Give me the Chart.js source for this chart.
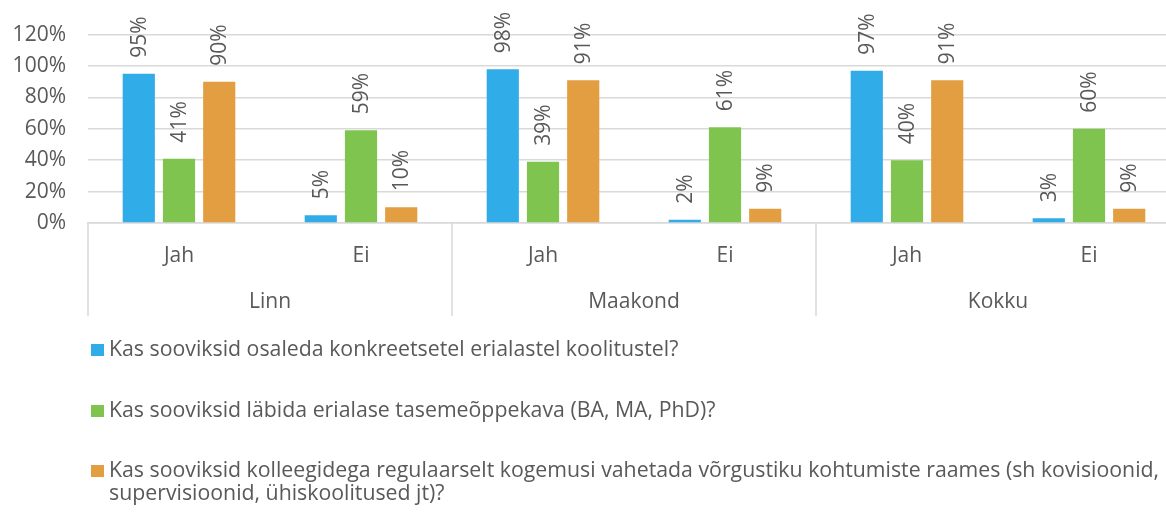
<!DOCTYPE html>
<html>
<head>
<meta charset="utf-8">
<script src="https://cdn.jsdelivr.net/npm/chart.js@4"></script>
<style>
  html, body { margin: 0; padding: 0; background: #fff; overflow: hidden; width: 1166px; height: 513px; }
  #wrap { position: relative; width: 1180px; height: 323px; }
  #legend { position: absolute; left: 0; top: 0; width: 1166px; height: 513px; pointer-events: none; font-family: "Open Sans", sans-serif; font-size: 21.3px; color: #595959; }
  .item { position: absolute; left: 91px; display: flex; align-items: flex-start; }
  .sw { width: 13px; height: 12px; margin-top: 8px; margin-right: 5px; flex: none; }
  .txt { line-height: 23px; white-space: nowrap; }
</style>
</head>
<body>
<div id="wrap"><canvas id="c" width="1180" height="323"></canvas></div>
<div id="legend"></div>
<script>
const categories = ["Jah", "Ei", "Jah", "Ei", "Jah", "Ei"];
const groups = ["Linn", "Maakond", "Kokku"];
const seriesNames = [
  "Kas sooviksid osaleda konkreetsetel erialastel koolitustel?",
  "Kas sooviksid läbida erialase tasemeõppekava (BA, MA, PhD)?",
  "Kas sooviksid kolleegidega regulaarselt kogemusi vahetada võrgustiku kohtumiste raames (sh kovisioonid,\nsupervisioonid, ühiskoolitused jt)?"
];
const koolitused = [95, 5, 98, 2, 97, 3];
const tasemeope = [41, 59, 39, 61, 40, 60];
const vorgustik = [90, 10, 91, 9, 91, 9];
const yTicks = [0, 20, 40, 60, 80, 100, 120];
const colors = ["#30ACE9", "#80C450", "#E29E40"];

const TXT = "#595959";
const FONT = '"Open Sans", sans-serif';
const FS = 21;

const dataLabels = {
  id: "dataLabels",
  afterDatasetsDraw(chart) {
    const ctx = chart.ctx;
    ctx.save();
    ctx.fillStyle = TXT;
    ctx.font = FS + "px " + FONT;
    ctx.textAlign = "left";
    ctx.textBaseline = "middle";
    chart.data.datasets.forEach((ds, di) => {
      const meta = chart.getDatasetMeta(di);
      meta.data.forEach((bar, i) => {
        ctx.save();
        ctx.translate(bar.x + 1, bar.y - 16);
        ctx.rotate(-Math.PI / 2);
        ctx.fillText(ds.data[i] + "%", 0, 0);
        ctx.restore();
      });
    });
    ctx.restore();
  }
};

const groupAxis = {
  id: "groupAxis",
  afterDraw(chart) {
    const ctx = chart.ctx;
    const x = chart.scales.x;
    const area = chart.chartArea;
    const half = (x.getPixelForValue(1) - x.getPixelForValue(0)) / 2;
    ctx.save();
    ctx.strokeStyle = "#D9D9D9";
    ctx.lineWidth = 1.5;
    for (let g = 0; g <= groups.length; g++) {
      const idx = g * 2;
      const px = Math.round(x.getPixelForValue(Math.min(idx, categories.length - 1)) + (idx >= categories.length ? half : -half));
      ctx.beginPath();
      ctx.moveTo(px, area.bottom);
      ctx.lineTo(px, area.bottom + 93);
      ctx.stroke();
    }
    ctx.fillStyle = TXT;
    ctx.font = FS + "px " + FONT;
    ctx.textAlign = "center";
    ctx.textBaseline = "middle";
    groups.forEach((g, gi) => {
      const cx = (x.getPixelForValue(gi * 2) + x.getPixelForValue(gi * 2 + 1)) / 2;
      ctx.fillText(g, cx, area.bottom + 79);
    });
    ctx.restore();
  }
};

new Chart(document.getElementById("c"), {
  type: "bar",
  data: {
    labels: categories,
    datasets: [
      { label: seriesNames[0], data: koolitused, backgroundColor: colors[0] },
      { label: seriesNames[1], data: tasemeope, backgroundColor: colors[1] },
      { label: seriesNames[2], data: vorgustik, backgroundColor: colors[2] }
    ]
  },
  options: {
    responsive: false,
    animation: false,
    events: [],
    layout: { padding: { top: 32, right: 0, bottom: 0, left: 0 } },
    datasets: { bar: { categoryPercentage: 0.663, barPercentage: 0.8 } },
    plugins: { legend: { display: false }, tooltip: { enabled: false } },
    scales: {
      x: {
        grid: { display: false },
        border: { color: "#D9D9D9", width: 1.5 },
        ticks: { color: TXT, font: { family: FONT, size: FS }, padding: 12, maxRotation: 0 },
        afterFit(s) { s.height = 100; }
      },
      y: {
        min: 0, max: 120,
        afterBuildTicks(s) { s.ticks = yTicks.map(v => ({ value: v })); },
        grid: { color: "#D9D9D9", drawTicks: false, lineWidth: 1.5 },
        border: { display: false },
        ticks: { color: TXT, font: { family: FONT, size: FS }, padding: 22, callback: v => v + "%" },
        afterFit(s) { s.width = 88; }
      }
    }
  },
  plugins: [dataLabels, groupAxis]
});

const legend = document.getElementById("legend");
const tops = [336, 397, 457];
seriesNames.forEach((name, i) => {
  const it = document.createElement("div");
  it.className = "item";
  it.style.top = tops[i] + "px";
  const sw = document.createElement("div");
  sw.className = "sw";
  sw.style.background = colors[i];
  const t = document.createElement("div");
  t.className = "txt";
  name.split("\n").forEach((line, li) => {
    if (li) t.appendChild(document.createElement("br"));
    t.appendChild(document.createTextNode(line));
  });
  it.appendChild(sw);
  it.appendChild(t);
  legend.appendChild(it);
});
</script>
</body>
</html>
